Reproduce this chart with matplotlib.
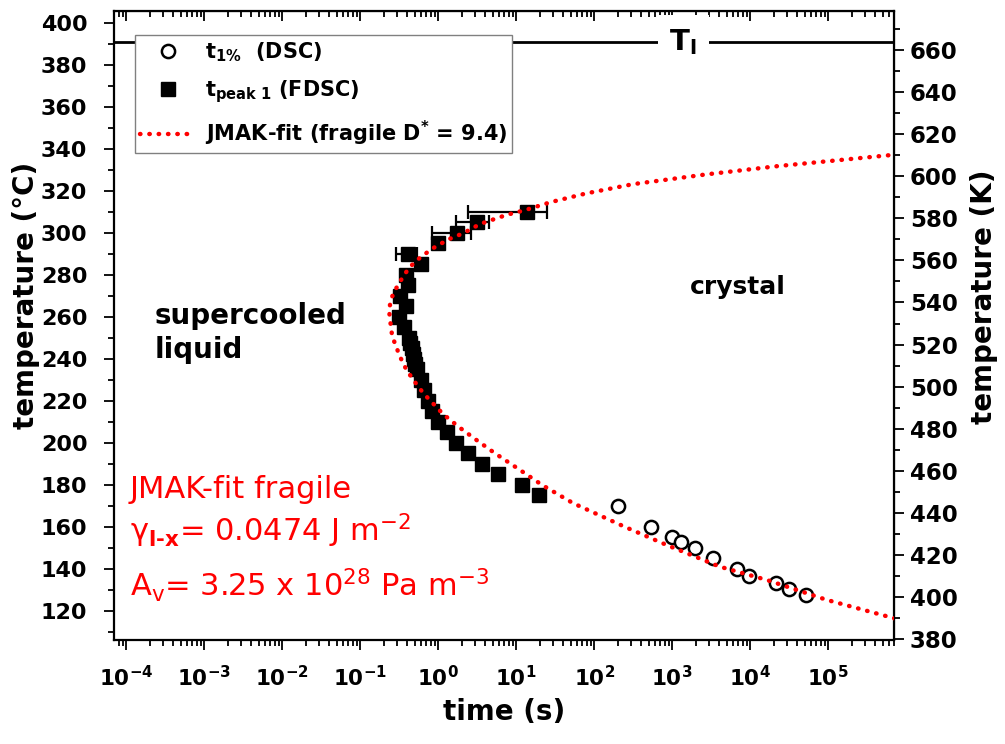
import numpy as np
import matplotlib.pyplot as plt
from matplotlib.ticker import MultipleLocator, LogLocator, NullFormatter, FixedLocator

plt.rcParams['font.family'] = 'DejaVu Sans'
plt.rcParams['font.weight'] = 'bold'
plt.rcParams['axes.labelweight'] = 'bold'
plt.rcParams['mathtext.default'] = 'regular'

# FDSC peak times (s) vs temperature (°C)
T_fdsc = [310, 305, 300, 295, 290, 285, 280, 275, 270, 265, 260, 255, 250,
          247.5, 245, 242.5, 240, 237.5, 235, 230, 225, 220, 215, 210, 205,
          200, 195, 190, 185, 180, 175]
t_fdsc = [13.6, 3.1, 1.72, 0.98, 0.41, 0.61, 0.385, 0.41, 0.32, 0.39, 0.31,
          0.36, 0.42, 0.44, 0.46, 0.48, 0.49, 0.51, 0.54, 0.60, 0.66, 0.73,
          0.83, 1.0, 1.28, 1.69, 2.43, 3.6, 5.9, 11.7, 19.7]

# error bars only for the high-temperature FDSC points
T_err = [310, 305, 300, 290]
t_err = [13.6, 3.1, 1.72, 0.41]
dt_err = [11.2, 1.4, 0.88, 0.12]

# DSC onset times t_1% (s)
T_dsc = [170, 160, 155, 153, 150, 145, 140, 136.5, 133.5, 130.5, 127.5]
t_dsc = [203, 528, 982, 1282, 1955, 3360, 6810, 9700, 21300, 31000, 51300]

# JMAK fit curve
T_fit = [116.5, 117.3, 125.3, 134.8, 141.1, 151.4, 160.1, 171.3, 180.0, 187.1,
         195.0, 201.4, 207.7, 213.8, 220.1, 223.6, 230.0, 235.0, 241.8, 246.1,
         250.6, 259.3, 263.3, 267.2, 272.0, 275.2, 279.4, 283.9, 287.4, 292.3,
         296.9, 299.8, 304.2, 308.6, 310.8, 314.7, 318.8, 323.2, 327.8, 331.8,
         337.2]
t_fit = [7.08e5, 5.89e5, 9.55e4, 1.62e4, 4070, 851, 245, 53.7, 21.4, 11.2,
         5.37, 3.09, 1.82, 1.15, 0.794, 0.646, 0.479, 0.389, 0.316, 0.288,
         0.257, 0.240, 0.234, 0.245, 0.269, 0.309, 0.355, 0.437, 0.550, 0.822,
         1.35, 2.09, 3.43, 7.59, 12.9, 28.2, 79.4, 316, 2690, 22900, 7.08e5]

T_liquidus = 390.9

# labelled decades on the time axis
x_decades = [1e-4, 1e-3, 1e-2, 1e-1, 1e0, 1e1, 1e2, 1e3, 1e4, 1e5]

fig = plt.figure(figsize=(10.05, 7.44), dpi=100)
ax = fig.add_axes([0.1139, 0.1398, 0.7761, 0.8454])

ax.errorbar(t_err, T_err, xerr=dt_err, fmt='none', ecolor='black',
            elinewidth=1.6, capsize=5, capthick=1.6, zorder=3)
ax.plot(t_dsc, T_dsc, 'o', ms=9.5, mfc='white', mec='black', mew=1.8,
        ls='none', label=r't$_{1\%}$  (DSC)', zorder=4)
ax.plot(t_fdsc, T_fdsc, 's', ms=10, color='black', ls='none',
        label=r't$_{peak\ 1}$ (FDSC)', zorder=4)
ax.plot(t_fit, T_fit, color='red', lw=3.2, ls=(0, (0.1, 2.0)),
        dash_capstyle='round', label=r'JMAK-fit (fragile D$^{*}$ = 9.4)',
        zorder=5)

ax.axhline(T_liquidus, color='black', lw=2, zorder=1.5)
ax.text(10**3.14, T_liquidus, r'T$_l$', fontsize=21, ha='center', va='center',
        bbox=dict(boxstyle='square,pad=0.4', fc='white', ec='none'), zorder=2)

ax.set_xscale('log')
ax.set_xlim(10**-4.151, 10**5.849)
ax.set_ylim(106.2, 405.6)

ax.xaxis.set_major_locator(FixedLocator(x_decades))
ax.xaxis.set_minor_locator(LogLocator(base=10, subs=np.arange(2, 10), numticks=20))
ax.xaxis.set_minor_formatter(NullFormatter())
ax.yaxis.set_major_locator(MultipleLocator(20))
ax.yaxis.set_minor_locator(MultipleLocator(10))

ax.tick_params(axis='x', which='both', direction='out', top=False, labelsize=15.5, pad=11)
ax.tick_params(axis='y', which='both', direction='out', right=False, labelsize=16, pad=12.5)
ax.tick_params(which='major', length=7, width=1.3)
ax.tick_params(which='minor', length=4, width=1.3)
for s in ax.spines.values():
    s.set_linewidth(1.6)

# top axis: same log ticks, pointing inwards, no labels
secx = ax.secondary_xaxis('top')
secx.xaxis.set_major_locator(FixedLocator(x_decades))
secx.xaxis.set_minor_locator(LogLocator(base=10, subs=np.arange(2, 10), numticks=20))
secx.xaxis.set_major_formatter(NullFormatter())
secx.xaxis.set_minor_formatter(NullFormatter())
secx.tick_params(which='both', direction='in', labeltop=False)
secx.tick_params(which='major', length=7, width=1.3)
secx.tick_params(which='minor', length=4, width=1.3)

# right axis in Kelvin
secy = ax.secondary_yaxis('right', functions=(lambda c: c + 273.15, lambda k: k - 273.15))
secy.yaxis.set_major_locator(MultipleLocator(20))
secy.yaxis.set_minor_locator(MultipleLocator(10))
secy.tick_params(which='both', direction='out', labelsize=16.5, pad=4)
secy.tick_params(which='major', length=7, width=1.3)
secy.tick_params(which='minor', length=4, width=1.3)
secy.set_ylabel('temperature (K)', fontsize=20, rotation=90, va='center', ha='center')
secy.yaxis.set_label_coords(1.1148, 0.545, transform=ax.transAxes)

ax.set_xlabel('time (s)', fontsize=20, va='center', ha='center')
ax.xaxis.set_label_coords(0.5, -0.1145)
ax.set_ylabel('temperature (°C)', fontsize=20, va='center', ha='center')
ax.yaxis.set_label_coords(-0.1135, 0.548)

ax.text(0.052, 0.488, 'supercooled\nliquid', transform=ax.transAxes,
        fontsize=20, ha='left', va='center', linespacing=1.25)
ax.text(0.738, 0.561, 'crystal', transform=ax.transAxes,
        fontsize=18, ha='left', va='center')

red_kw = dict(transform=ax.transAxes, fontsize=22, color='red',
              fontweight='normal', ha='left', va='baseline')
ax.text(0.0199, 0.2258, 'JMAK-fit fragile', **red_kw)
ax.text(0.0199, 0.1574, r'γ$_{\text{l-x}}$= 0.0474 J m$^{-2}$', **red_kw)
ax.text(0.0199, 0.0700, r'A$_v$= 3.25 x 10$^{28}$ Pa m$^{-3}$', **red_kw)

leg = ax.legend(loc='upper left', bbox_to_anchor=(0.026, 0.962), borderaxespad=0,
                fontsize=15, frameon=True, fancybox=False, framealpha=1,
                edgecolor='#808080', borderpad=0.25, handlelength=2.7,
                handletextpad=0.4, labelspacing=0.68)
leg.get_frame().set_linewidth(1.0)

fig.savefig('out.png', dpi=100)
